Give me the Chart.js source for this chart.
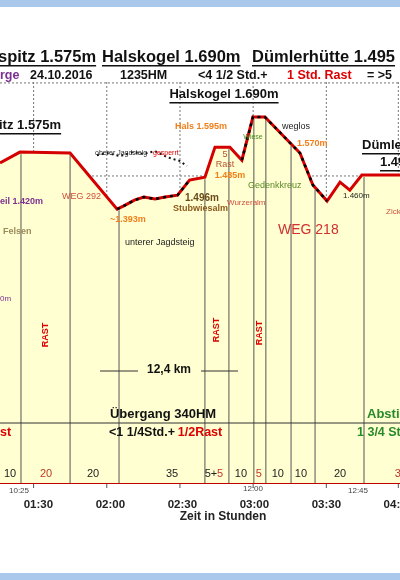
<!DOCTYPE html>
<html>
<head>
<meta charset="utf-8">
<script src="https://cdn.jsdelivr.net/npm/chart.js@4.4.0/dist/chart.umd.min.js"></script>
<style>
  html, body { margin: 0; padding: 0; background: #fff; }
  #wrap { position: relative; width: 400px; height: 580px; }
  .bar { position: absolute; left: 0; width: 400px; height: 7px; background: #a9c8ec; }
</style>
</head>
<body>
<div id="wrap">
  <div class="bar" style="top:0"></div>
  <canvas id="profil" width="400" height="580"></canvas>
  <div class="bar" style="bottom:0"></div>
</div>
<script>
// Zeit in Minuten ab Start, Höhe in m
const zeitMin = [74, 82.3, 103.2, 122.8, 126, 130, 134, 138.6, 142.8, 148, 153, 159.4, 163.6, 169.8, 174.8, 179.4, 184.4, 199, 204.4, 210.3, 215.7, 219.8, 224.8, 240.7];
const hoehe   = [1542, 1577, 1574, 1393, 1405, 1422, 1432, 1426, 1432, 1438, 1487, 1496, 1593, 1593, 1551, 1690, 1690, 1574, 1471, 1419, 1480, 1454, 1503, 1503];

// Abschnitte, die zusätzlich schwarz punktiert sind (Indexbereiche im Profil)
const punktiert = [[3, 10], [14, 19]];

// oberer Jagdsteig (gesperrt)
const obenZeit  = [114.4, 118.6, 124, 129.4, 133.6, 138.6, 143.6, 149, 151.9];
const obenHoehe = [1567, 1574, 1564, 1577, 1571, 1580, 1561, 1548, 1532];

// Zeitachse
const achsenTicks = [90, 120, 150, 180, 210, 240];

// Trennlinien (Abschnitte) und Gehzeiten darunter
const abschnitte = [82.75, 103.2, 123.6, 159.4, 169.4, 179.8, 184.8, 195.3, 205.3, 225.7];
const gehzeiten = [
  { t: 78.2, txt: '10', c: '#222' }, { t: 93.2, txt: '20', c: '#c0392b' },
  { t: 112.8, txt: '20', c: '#222' }, { t: 145.7, txt: '35', c: '#222' },
  { t: 163.6, txt: '5+', c: '#222', extra: '5' }, { t: 174.4, txt: '10', c: '#222' },
  { t: 181.9, txt: '5', c: '#c0392b' }, { t: 189.8, txt: '10', c: '#222' },
  { t: 199.4, txt: '10', c: '#222' }, { t: 215.7, txt: '20', c: '#222' },
  { t: 239.8, txt: '3', c: '#c0392b' }
];
const rasterZeit = [88, 118.5, 149, 179.5, 210, 240];
const rasterHoehe = [1500, 1800];

function interp(t) {
  for (let i = 1; i < zeitMin.length; i++) {
    if (t <= zeitMin[i]) {
      const f = (t - zeitMin[i - 1]) / (zeitMin[i] - zeitMin[i - 1]);
      return hoehe[i - 1] + f * (hoehe[i] - hoehe[i - 1]);
    }
  }
  return hoehe[hoehe.length - 1];
}

function txt(ctx, s, x, y, font, color, align, underline) {
  ctx.font = font;
  ctx.fillStyle = color;
  ctx.textAlign = align || 'left';
  ctx.textBaseline = 'middle';
  ctx.fillText(s, x, y);
  if (underline) {
    const w = ctx.measureText(s).width;
    const x0 = align === 'center' ? x - w / 2 : x;
    ctx.fillRect(x0, y + 8, w, 1.5);
  }
}

const rasterPlugin = {
  id: 'raster',
  beforeDatasetsDraw(chart) {
    const { ctx, chartArea: a, scales: { x, y } } = chart;
    ctx.save();
    ctx.strokeStyle = '#777';
    ctx.lineWidth = 1;
    ctx.setLineDash([2, 2]);
    rasterZeit.forEach(t => {
      const px = x.getPixelForValue(t);
      ctx.beginPath(); ctx.moveTo(px, a.top); ctx.lineTo(px, a.bottom); ctx.stroke();
    });
    rasterHoehe.forEach(h => {
      const py = y.getPixelForValue(h);
      ctx.beginPath(); ctx.moveTo(a.left, py); ctx.lineTo(a.right, py); ctx.stroke();
    });
    ctx.restore();
  },
  afterDatasetsDraw(chart) {
    const { ctx, chartArea: a, scales: { x, y } } = chart;
    ctx.save();
    ctx.strokeStyle = '#555';
    ctx.lineWidth = 1;
    abschnitte.forEach(t => {
      const px = x.getPixelForValue(t);
      ctx.beginPath(); ctx.moveTo(px, y.getPixelForValue(interp(t)) + 2); ctx.lineTo(px, a.bottom); ctx.stroke();
    });
    rasterZeit.forEach(t => {
      const px = x.getPixelForValue(t);
      ctx.beginPath(); ctx.moveTo(px, a.bottom + 1); ctx.lineTo(px, a.bottom + 5); ctx.stroke();
    });
    gehzeiten.forEach(g => {
      const px = x.getPixelForValue(g.t);
      if (g.extra) {
        txt(ctx, g.txt, px - 4, 474, '11px Arial', g.c, 'center');
        txt(ctx, g.extra, px + 5, 474, '11px Arial', '#c0392b', 'center');
      } else {
        txt(ctx, g.txt, px, 474, '11px Arial', g.c, 'center');
      }
    });
    txt(ctx, '10:25', 19, 491, '8px Arial', '#444', 'center');
    txt(ctx, '12:00', 253, 489, '8px Arial', '#444', 'center');
    txt(ctx, '12:45', 358, 491, '8px Arial', '#444', 'center');
    txt(ctx, 'Zeit in Stunden', 223, 517, 'bold 12px Arial', '#222', 'center');

    const H = 'bold 16.5px Arial';
    txt(ctx, 'spitz 1.575m', -2, 57, H, '#111', 'left', true);
    txt(ctx, 'Halskogel 1.690m', 102, 57, H, '#111', 'left', true);
    txt(ctx, 'Dümlerhütte 1.495', 252, 57, H, '#111', 'left', true);
    const S = 'bold 12.5px Arial';
    txt(ctx, 'rge', 0, 76, S, '#7b2f8f');
    txt(ctx, '24.10.2016', 30, 76, S, '#111');
    txt(ctx, '1235HM', 120, 76, S, '#111');
    txt(ctx, '<4 1/2 Std.+', 198, 76, S, '#111');
    txt(ctx, '1 Std. Rast', 287, 76, S, '#d00');
    txt(ctx, '= >5', 367, 76, S, '#111');
    txt(ctx, 'Halskogel 1.690m', 224, 94, 'bold 13px Arial', '#111', 'center', true);
    txt(ctx, 'itz 1.575m', -1, 125, 'bold 13px Arial', '#111', 'left', true);
    txt(ctx, 'Dümler', 362, 145, 'bold 13px Arial', '#111', 'left', true);
    txt(ctx, '1.49', 380, 162, 'bold 13px Arial', '#111', 'left', true);

    txt(ctx, 'Hals 1.595m', 175, 127, 'bold 9px Arial', '#f07f1a');
    txt(ctx, 'weglos', 282, 127, '9px Arial', '#222');
    txt(ctx, '1.570m', 297, 144, 'bold 9px Arial', '#f07f1a');
    txt(ctx, 'Wiese', 253, 137, '7px Arial', '#4a8a2a', 'center');
    txt(ctx, '5', 225, 155, '9px Arial', '#b5532f', 'center');
    txt(ctx, 'Rast', 225, 165, '9px Arial', '#b5532f', 'center');
    txt(ctx, '1.485m', 230, 176, 'bold 9px Arial', '#f07f1a', 'center');
    txt(ctx, 'oberer Jagdsteig ', 95, 153, '7px Arial', '#222');
    txt(ctx, 'gesperrt', 153, 153, '7px Arial', '#d00');
    txt(ctx, 'Gedenkkreuz', 248, 186, '9px Arial', '#5c8a2a');
    txt(ctx, '1.460m', 343, 196, '8px Arial', '#222');
    txt(ctx, 'eil 1.420m', 0, 202, 'bold 9px Arial', '#7b2f8f');
    txt(ctx, 'WEG 292', 62, 197, '9px Arial', '#d05040');
    txt(ctx, '1.496m', 185, 198, 'bold 10px Arial', '#6b4a1a');
    txt(ctx, 'Stubwiesalm', 173, 209, 'bold 9px Arial', '#8b5a1a');
    txt(ctx, 'Wurzeralm', 227, 203, '8px Arial', '#d05040');
    txt(ctx, '~1.393m', 110, 220, 'bold 9px Arial', '#f07f1a');
    txt(ctx, 'Zick', 386, 212, '8px Arial', '#d05040');
    txt(ctx, 'Felsen', 3, 232, 'bold 9px Arial', '#9a8a5a');
    txt(ctx, 'WEG 218', 278, 230, '14px Arial', '#d03030');
    txt(ctx, 'unterer Jagdsteig', 125, 243, '9px Arial', '#222');
    txt(ctx, '0m', 0, 299, '8px Arial', '#7b2f8f');

    [[46, 335], [217, 330], [260, 333]].forEach(([px, py]) => {
      ctx.save(); ctx.translate(px, py); ctx.rotate(-Math.PI / 2);
      txt(ctx, 'RAST', 0, 0, 'bold 9px Arial', '#d00', 'center');
      ctx.restore();
    });

    ctx.strokeStyle = '#333'; ctx.fillStyle = '#333'; ctx.lineWidth = 1;
    const pfeil = (x1, x2, yy) => {
      ctx.beginPath(); ctx.moveTo(x1, yy); ctx.lineTo(x2, yy); ctx.stroke();
    };
    pfeil(100, 138, 371); pfeil(201, 238, 371);
    txt(ctx, '12,4 km', 169, 370, 'bold 12px Arial', '#111', 'center');
    pfeil(0, 400, 423);
    txt(ctx, 'Übergang 340HM', 163, 414, 'bold 13px Arial', '#111', 'center');
    txt(ctx, '<1 1/4Std.+', 142, 433, 'bold 12.5px Arial', '#111', 'center');
    txt(ctx, '1/2Rast', 200, 433, 'bold 12.5px Arial', '#d00', 'center');
    txt(ctx, 'st', 0, 433, 'bold 12.5px Arial', '#d00');
    txt(ctx, 'Absti', 367, 414, 'bold 13px Arial', '#2a8a2a');
    txt(ctx, '1 3/4 St', 357, 433, 'bold 12.5px Arial', '#2a8a2a');
    ctx.restore();
  }
};

const profilPunkte = zeitMin.map((t, i) => ({ x: t, y: hoehe[i] }));

new Chart(document.getElementById('profil'), {
  type: 'line',
  data: {
    datasets: [
      {
        data: profilPunkte,
        borderColor: '#d40000',
        borderWidth: 3,
        backgroundColor: '#ffffd2',
        fill: 'start',
        pointRadius: 0,
        tension: 0,
        order: 2
      },
      ...punktiert.map(([a, b]) => ({
        data: profilPunkte.slice(a, b + 1),
        borderColor: '#000',
        borderWidth: 2.5,
        borderDash: [3, 4],
        fill: false,
        pointRadius: 0,
        order: 1
      })),
      {
        data: obenZeit.map((t, i) => ({ x: t, y: obenHoehe[i] })),
        borderColor: '#111',
        borderWidth: 2,
        borderDash: [2, 3],
        fill: false,
        pointRadius: 0,
        order: 1
      }
    ]
  },
  options: {
    responsive: false,
    animation: false,
    layout: { padding: { top: 82, left: 0, right: 0 } },
    plugins: { legend: { display: false }, tooltip: { enabled: false } },
    scales: {
      x: {
        type: 'linear', min: 74, max: 240.7,
        afterBuildTicks: s => { s.ticks = achsenTicks.map(v => ({ value: v })); },
        afterFit: s => { s.height = 97; s.paddingLeft = 0; s.paddingRight = 0; },
        border: { color: '#c00000', width: 2 },
        grid: { display: false },
        ticks: {
          padding: 7, maxRotation: 0, minRotation: 0, autoSkip: false,
          font: { family: 'Arial', size: 11.5, weight: 'bold' }, color: '#222',
          callback: v => {
            const h = Math.floor(v / 60), m = v % 60;
            return String(h).padStart(2, '0') + ':' + String(m).padStart(2, '0');
          }
        }
      },
      y: { display: false, min: 510, max: 1803 }
    }
  },
  plugins: [rasterPlugin]
});
</script>
</body>
</html>
